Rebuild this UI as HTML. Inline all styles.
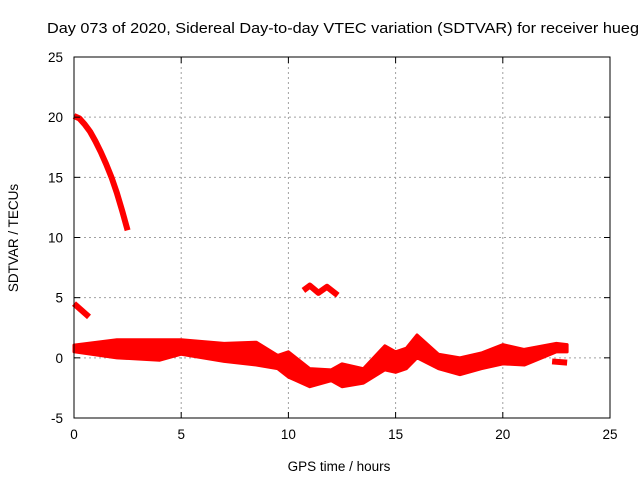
<!DOCTYPE html>
<html><head><meta charset="utf-8"><style>
body{margin:0;background:#fff;width:640px;height:480px;overflow:hidden}
svg{font-family:"Liberation Sans",sans-serif}
</style></head><body>
<svg width="640" height="480">
<text x="47" y="33" font-size="14.5" textLength="592" lengthAdjust="spacingAndGlyphs">Day 073 of 2020, Sidereal Day-to-day VTEC variation (SDTVAR) for receiver hueg</text>
<g id="grid"></g><g id="marks"></g><g id="axes"></g>
<text x="339" y="471" font-size="13.5" text-anchor="middle">GPS time / hours</text>
<text transform="translate(18,238) rotate(-90)" font-size="13.5" text-anchor="middle">SDTVAR / TECUs</text>
</svg>
<script>
const xTicks=[0,5,10,15,20,25];
const yTicks=[-5,0,5,10,15,20,25];
const bandT=[0,2,4,5,7,8.5,9.5,10,11,12,12.5,13.5,14.5,15,15.5,16,17,18,19,20,21,22.5,23];
const bandHi=[1.06,1.5,1.5,1.5,1.2,1.3,0.2,0.5,-0.9,-1,-0.5,-0.9,1,0.5,0.8,1.9,0.3,0,0.4,1.1,0.7,1.2,1.1];
const bandLo=[0.5,0,-0.2,0.3,-0.3,-0.6,-0.9,-1.6,-2.4,-1.9,-2.4,-2.1,-1,-1.2,-0.9,0,-0.9,-1.4,-0.9,-0.5,-0.6,0.5,0.5];
const s1T=[0,0.25,0.5,0.75,1,1.25,1.5,1.75,2,2.25,2.5];const s1V=[20.1,19.9,19.4,18.8,18,17.1,16.1,15,13.7,12.2,10.6];
const s2T=[0,0.7];const s2V=[4.5,3.4];
const s3T=[10.7,11,11.4,11.8,12.3];const s3V=[5.6,6,5.4,5.9,5.2];
const s4T=[22.3,23];const s4V=[-0.3,-0.4];
const X0=74,X1=610,Y0=418,Y1=57;
const xs=v=>X0+(v/25)*(X1-X0), ys=v=>Y0-((v+5)/30)*(Y0-Y1);
const NS="http://www.w3.org/2000/svg";
function mk(t,a,p){const e=document.createElementNS(NS,t);for(const k in a)e.setAttribute(k,a[k]);p.appendChild(e);return e;}
const grid=document.getElementById('grid'),axes=document.getElementById('axes'),marks=document.getElementById('marks');
xTicks.forEach(v=>{const x=xs(v);
 if(v>0&&v<25){const l=mk('line',{x1:x,x2:x,y1:Y1,y2:Y0,stroke:'#a0a0a0','stroke-dasharray':'2,3'},grid);
 }
 mk('line',{x1:x,x2:x,y1:Y0,y2:Y0-6,stroke:'#000'},axes);mk('line',{x1:x,x2:x,y1:Y1,y2:Y1+6,stroke:'#000'},axes);
 const t=mk('text',{x:x,y:Y0+21,'font-size':13.5,'text-anchor':'middle'},axes);t.textContent=v;
 });
yTicks.forEach(v=>{const y=ys(v);
 if(v>-5&&v<25){const l=mk('line',{x1:X0,x2:X1,y1:y,y2:y,stroke:'#a0a0a0','stroke-dasharray':'2,3'},grid);
 }
 mk('line',{x1:X0,x2:X0+6,y1:y,y2:y,stroke:'#000'},axes);mk('line',{x1:X1,x2:X1-6,y1:y,y2:y,stroke:'#000'},axes);
 const t=mk('text',{x:X0-11,y:y+5,'font-size':13.5,'text-anchor':'end'},axes);t.textContent=v;
 });
const fr=mk('rect',{x:X0,y:Y1,width:X1-X0,height:Y0-Y1,fill:'none',stroke:'#000'},axes);

let pts=bandT.map((t,i)=>xs(t)+','+ys(bandHi[i])).concat(bandT.map((t,i)=>xs(t)+','+ys(bandLo[i])).reverse());
const band=mk('polygon',{points:pts.join(' '),fill:'#ff0000',stroke:'#ff0000','stroke-width':3,'stroke-linejoin':'round'},marks);

[[s1T,s1V,'sdtvar-series-high'],[s2T,s2V,'sdtvar-series-short'],[s3T,s3V,'sdtvar-series-hump'],[s4T,s4V,'sdtvar-series-tail']].forEach(([T,V,n])=>{
 const p=mk('polyline',{points:T.map((t,i)=>xs(t)+','+ys(V[i])).join(' '),fill:'none',stroke:'#ff0000','stroke-width':6,'stroke-linejoin':'round'},marks);
 });
</script>
</body></html>
